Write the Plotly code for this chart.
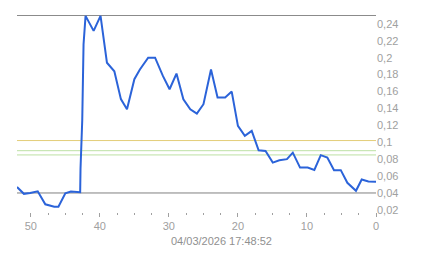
import plotly.graph_objects as go

# minutes ago (x) and values (y)
minutes_ago = [52.0, 51.0, 50.1, 49.0, 47.9, 46.6, 46.0, 45.0, 44.2, 42.85,
               42.8, 42.55, 42.36, 42.07, 40.9, 39.9, 38.97, 37.9, 36.95, 36.07,
               35.0, 34.2, 33.0, 32.0, 30.87, 29.9, 28.9, 27.9, 26.9, 25.95,
               24.99, 23.9, 22.95, 21.85, 20.9, 20.0, 19.0, 18.0, 17.0, 16.0,
               14.95, 14.0, 12.9, 12.05, 11.0, 9.9, 8.93, 8.0, 7.05, 6.08,
               5.1, 4.15, 2.9, 2.07, 1.1, 0.0]
values = [0.047, 0.039, 0.040, 0.042, 0.0266, 0.0238, 0.0238, 0.0397, 0.0416, 0.041,
          0.069, 0.126, 0.216, 0.2495, 0.2317, 0.2495, 0.194, 0.184, 0.151, 0.139,
          0.1746, 0.186, 0.200, 0.200, 0.1785, 0.1627, 0.1812, 0.1509, 0.139, 0.1338,
          0.145, 0.186, 0.1528, 0.1528, 0.1599, 0.1193, 0.1075, 0.1134, 0.0905, 0.0897,
          0.0759, 0.0787, 0.080, 0.0877, 0.070, 0.070, 0.0672, 0.0847, 0.0818, 0.067,
          0.067, 0.052, 0.0426, 0.0559, 0.0537, 0.0534]

ref_gray = [0.25, 0.04]
ref_yellow = [0.102]
ref_green = [0.090, 0.085]

x_ticks = [50, 40, 30, 20, 10, 0]
y_ticks = [0.02, 0.04, 0.06, 0.08, 0.10, 0.12, 0.14, 0.16, 0.18, 0.20, 0.22, 0.24]
timestamp = "04/03/2026 17:48:52"

fig = go.Figure()

shapes = []
for v in ref_gray:
    shapes.append(dict(type="line", xref="paper", x0=0, x1=1, yref="y", y0=v, y1=v,
                       line=dict(color="#808080", width=1), layer="below"))
for v in ref_yellow:
    shapes.append(dict(type="line", xref="paper", x0=0, x1=1, yref="y", y0=v, y1=v,
                       line=dict(color="#e3cd78", width=1), layer="below"))
for v in ref_green:
    shapes.append(dict(type="line", xref="paper", x0=0, x1=1, yref="y", y0=v, y1=v,
                       line=dict(color="#bde0a4", width=1), layer="below"))

fig.add_trace(go.Scatter(x=minutes_ago, y=values, mode="lines",
                         line=dict(color="#2b63d9", width=2), hoverinfo="skip"))

tickfont = dict(family="Liberation Sans, Arial, sans-serif", size=11, color="#a0a0a0")

fig.update_layout(
    width=443, height=258,
    margin=dict(l=17, r=67, t=15, b=46),
    paper_bgcolor="white", plot_bgcolor="white",
    showlegend=False,
    separators=",.",
    shapes=shapes,
    xaxis=dict(range=[52, 0], tickvals=x_ticks, showgrid=False, zeroline=False,
               showline=False, ticks="outside", ticklen=4, tickcolor="#a0a0a0",
               tickfont=tickfont,
               minor=dict(dtick=2.5, tick0=0, ticks="outside", ticklen=2,
                          tickcolor="#a0a0a0", showgrid=False)),
    yaxis=dict(range=[0.0175, 0.2505], side="right", tickvals=y_ticks,
               showgrid=False, zeroline=False, showline=False, ticks="",
               tickfont=tickfont, tickformat=".2~f"),
    annotations=[dict(text=timestamp, xref="paper", yref="paper",
                      x=(221.5 - 17) / 359, y=-(241 - 212) / 197,
                      xanchor="center", yanchor="middle", showarrow=False,
                      font=dict(family="Liberation Sans, Arial, sans-serif",
                                size=11, color="#909090"))],
)

fig.write_html("out.html")
